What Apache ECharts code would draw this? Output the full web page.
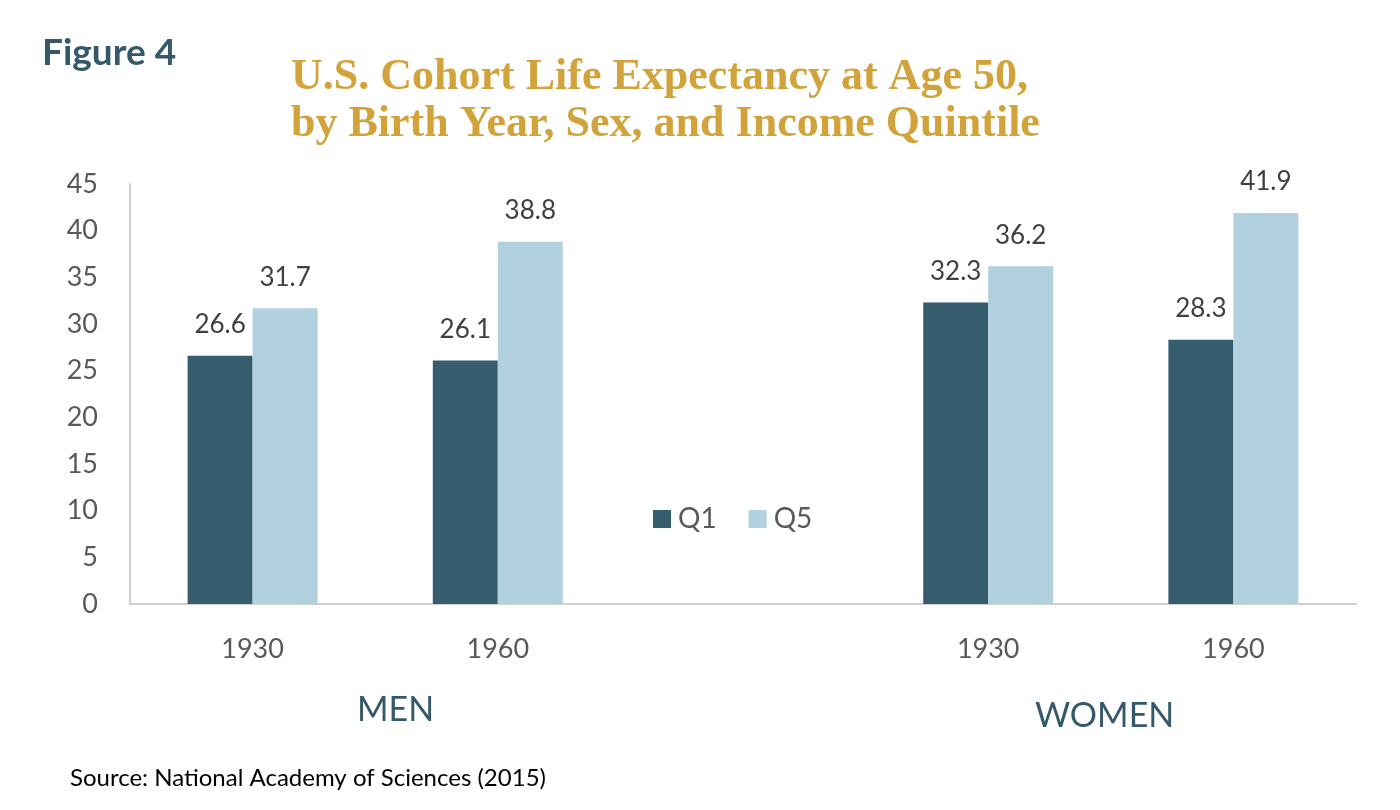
<!DOCTYPE html>
<html>
<head>
<meta charset="utf-8">
<script src="https://cdn.jsdelivr.net/npm/echarts@6/dist/echarts.min.js"></script>
<style>
html,body{margin:0;padding:0;background:#fff;}
#main{width:1400px;height:810px;}
</style>
</head>
<body>
<div id="main"></div>
<script>
var categories = ['1930', '1960', '', '1930', '1960'];
var q1Values = [26.6, 26.1, null, 32.3, 28.3];
var q5Values = [31.7, 38.8, null, 36.2, 41.9];
var seriesNames = ['Q1', 'Q5'];
var groupLabels = ['MEN', 'WOMEN'];
var titleText = 'U.S. Cohort Life Expectancy at Age 50,\nby Birth Year, Sex, and Income Quintile';
var figureText = 'Figure 4';
var sourceText = 'Source: National Academy of Sciences (2015)';

var chart = echarts.init(document.getElementById('main'));
var sans = 'Lato';
var labelStyle = {
  show: true, position: 'top', distance: 18,
  fontFamily: sans, fontSize: 26, color: '#404040'
};
chart.setOption({
  backgroundColor: '#ffffff',
  animation: false,
  title: [
    { text: figureText, left: 37, top: 30,
      textStyle: { fontFamily: sans, fontWeight: 'bold', fontSize: 37, color: '#35586B' } },
    { text: titleText, left: 286, top: 49,
      textStyle: { fontFamily: 'Liberation Serif', fontWeight: 'bold', fontSize: 44, lineHeight: 47, color: '#D2A33B' } },
    { text: sourceText, left: 65, top: 761,
      textStyle: { fontFamily: sans, fontWeight: 'normal', fontSize: 24, color: '#000000' } }
  ],
  legend: {
    data: seriesNames, left: 648, top: 500,
    itemWidth: 18, itemHeight: 18, itemGap: 32,
    icon: 'rect',
    textStyle: { fontFamily: sans, fontSize: 28, color: '#595959', padding: [0, 0, 0, 2] }
  },
  grid: { left: 130, right: 44, top: 184, bottom: 206 },
  xAxis: {
    type: 'category', data: categories,
    axisLine: { show: true, lineStyle: { color: '#d0d0d0', width: 2 } },
    axisTick: { show: false },
    axisLabel: { fontFamily: sans, fontSize: 27, color: '#595959', margin: 32 }
  },
  yAxis: {
    type: 'value', min: 0, max: 45, interval: 5,
    axisLine: { show: true, lineStyle: { color: '#d0d0d0', width: 2 } },
    axisTick: { show: false },
    splitLine: { show: false },
    axisLabel: { fontFamily: sans, fontSize: 27, color: '#595959', margin: 32 }
  },
  graphic: [
    { type: 'text', left: 357, top: 693,
      style: { text: groupLabels[0], fontFamily: sans, fontSize: 34, fill: '#35586B' } },
    { type: 'text', left: 1035, top: 699,
      style: { text: groupLabels[1], fontFamily: sans, fontSize: 34, fill: '#35586B' } }
  ],
  series: [
    { name: seriesNames[0], type: 'bar', data: q1Values, barWidth: 65, barGap: '0%',
      itemStyle: { color: '#365D6E' }, label: labelStyle },
    { name: seriesNames[1], type: 'bar', data: q5Values, barWidth: 65, barGap: '0%',
      itemStyle: { color: '#B1D1DE' }, label: labelStyle }
  ]
});
</script>
</body>
</html>
